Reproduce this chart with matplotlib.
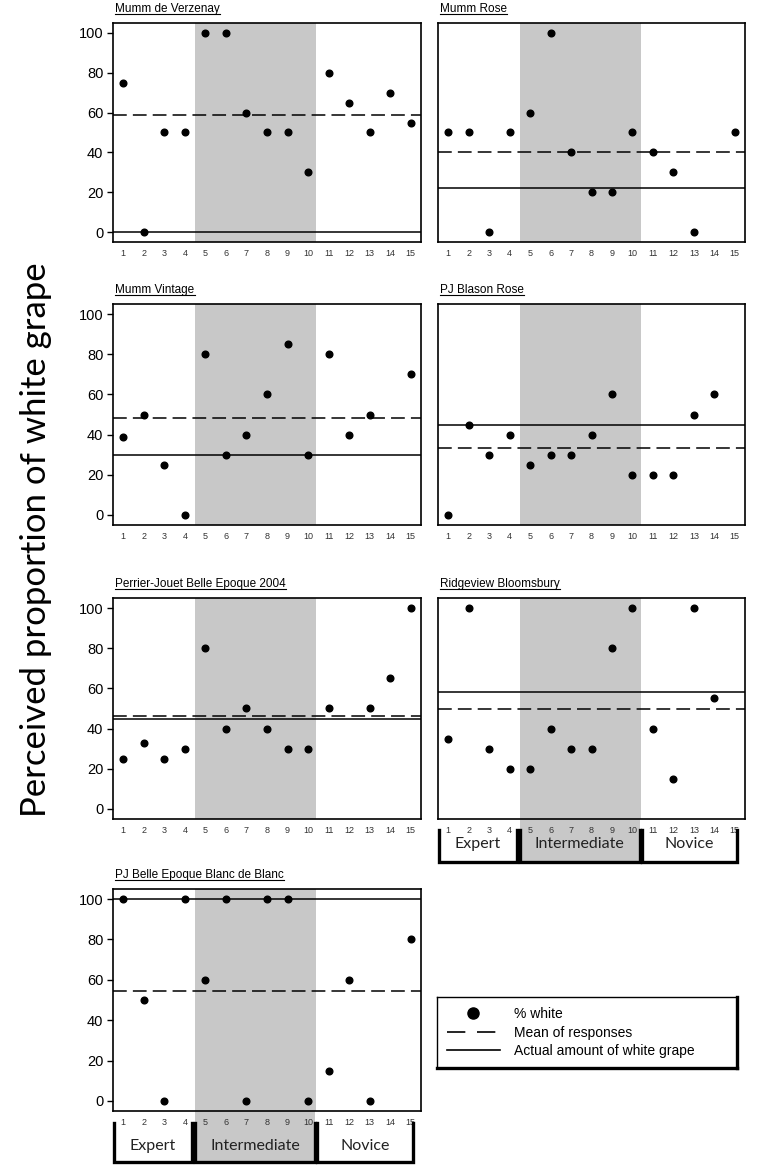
import numpy as np
import matplotlib
matplotlib.use('Agg')
import matplotlib.pyplot as plt
import matplotlib.transforms as mtransforms
from matplotlib.lines import Line2D
from matplotlib.patches import Rectangle

nan = np.nan

# judges 1-15: 1-4 expert, 5-10 intermediate, 11-15 novice
judges = list(range(1, 16))
groups = ['Expert', 'Intermediate', 'Novice']
group_first = [1, 5, 11]
group_last = [4, 10, 15]

wines = ['Mumm de Verzenay', 'Mumm Rose', 'Mumm Vintage', 'PJ Blason Rose',
         'Perrier-Jouet Belle Epoque 2004', 'Ridgeview Bloomsbury',
         'PJ Belle Epoque Blanc de Blanc']

verzenay = [75, 0, 50, 50, 100, 100, 60, 50, 50, 30, 80, 65, 50, 70, 55]
mumm_rose = [50, 50, 0, 50, 60, 100, 40, 20, 20, 50, 40, 30, 0, nan, 50]
mumm_vintage = [39, 50, 25, 0, 80, 30, 40, 60, 85, 30, 80, 40, 50, nan, 70]
blason_rose = [0, 45, 30, 40, 25, 30, 30, 40, 60, 20, 20, 20, 50, 60, nan]
belle_epoque_2004 = [25, 33, 25, 30, 80, 40, 50, 40, 30, 30, 50, nan, 50, 65, 100]
ridgeview = [35, 100, 30, 20, 20, 40, 30, 30, 80, 100, 40, 15, 100, 55, nan]
blanc_de_blanc = [100, 50, 0, 100, 60, 100, 0, 100, 100, 0, 15, 60, 0, nan, 80]

responses = [verzenay, mumm_rose, mumm_vintage, blason_rose,
             belle_epoque_2004, ridgeview, blanc_de_blanc]
actual_white = [0, 22, 30, 45, 45, 58, 100]

W, H = 762, 1166
rows_px = [(23, 242), (304, 525), (598, 819), (889, 1111)]
cols_px = [(113, 421), (438, 745)]
bracket_px = {5: (11, 43, 25), 6: (12, 51, 35)}   # top, bottom, text centre (px below axes)

fig = plt.figure(figsize=(W / 100, H / 100), dpi=100)
plt.rcParams['font.family'] = ['Liberation Sans', 'DejaVu Sans']

dash = (0, (9, 4))
titles = []
for i, (name, vals, act) in enumerate(zip(wines, responses, actual_white)):
    r, c = divmod(i, 2)
    y0, y1 = rows_px[r]
    x0, x1 = cols_px[c]
    ax = fig.add_axes([x0 / W, 1 - y1 / H, (x1 - x0) / W, (y1 - y0) / H])
    ax.axvspan(group_first[1] - 0.5, group_last[1] + 0.4, color='#c8c8c8', lw=0, zorder=0)
    ax.axhline(np.nanmean(vals), color='k', lw=1.1, ls=dash, zorder=2)
    ax.axhline(act, color='k', lw=1.1, zorder=2)
    ax.plot(judges, vals, 'o', color='k', ms=4.8, zorder=3)
    ax.set_xlim(0.5, 15.5)
    ax.set_ylim(-5, 105)
    ax.set_xticks(judges)
    ax.tick_params(axis='x', length=0, pad=5, labelsize=6.5, labelcolor='#333333')
    if c == 0:
        ax.set_yticks([0, 20, 40, 60, 80, 100])
        ax.tick_params(axis='y', length=4, width=1, pad=3, labelsize=10.5)
    else:
        ax.set_yticks([])
    for s in ax.spines.values():
        s.set_linewidth(1.2)
    t = ax.text(0.008, 1.048, name, transform=ax.transAxes, ha='left',
                va='baseline', fontsize=8.5)
    titles.append((ax, t))

    if i in bracket_px:
        top, bot, mid = bracket_px[i]
        hpx = y1 - y0
        tr = mtransforms.blended_transform_factory(ax.transData, ax.transAxes)
        yt, yb, ym = -top / hpx, -bot / hpx, -mid / hpx
        edges_l = [0.55, 4.5, 10.45]
        edges_r = [4.35, 10.35, 15.1]
        ax.add_patch(Rectangle((group_first[1] - 0.5, yb), group_last[1] + 0.35 - (group_first[1] - 0.5),
                               -yb, transform=tr, color='#c8c8c8', lw=0,
                               clip_on=False, zorder=0))
        for g, xl, xr in zip(groups, edges_l, edges_r):
            ax.plot([xl, xl, xr, xr], [yt, yb, yb, yt], color='k', lw=2.4,
                    transform=tr, clip_on=False, solid_joinstyle='miter')
            ax.text((xl + xr) / 2, ym, g, transform=tr, ha='center', va='center',
                    fontsize=11.5, family=['Lato', 'DejaVu Sans'], color='#222222')

fig.text(36 / W, 1 - 540 / H, 'Perceived proportion of white grape', rotation=90,
         ha='center', va='center', fontsize=25, family=['Lato', 'DejaVu Sans'])

# legend box
lax = fig.add_axes([437 / W, 1 - 1068 / H, 300 / W, 71 / H])
lax.set_xticks([])
lax.set_yticks([])
for k, s in lax.spines.items():
    s.set_linewidth(2.4 if k in ('right', 'bottom') else 1.0)
handles = [Line2D([], [], marker='o', ls='none', color='k', ms=8),
           Line2D([], [], color='k', lw=1.2, ls=(0, (11, 7))),
           Line2D([], [], color='k', lw=1.2)]
labels = ['% white', 'Mean of responses', 'Actual amount of white grape']
lax.legend(handles, labels, loc='center left', bbox_to_anchor=(10 / 300, 0.5),
           frameon=False, fontsize=10, handlelength=3.8, handletextpad=1.0,
           borderpad=0, borderaxespad=0, labelspacing=0.3)

# underline the panel titles
fig.canvas.draw()
for ax, t in titles:
    bb = t.get_window_extent()
    yb = ax.transAxes.transform((0, 1.048))[1] - 2
    fig.add_artist(Line2D([bb.x0, bb.x1], [yb, yb], color='k', lw=0.8,
                          transform=mtransforms.IdentityTransform()))

fig.savefig('out.png', dpi=100)
